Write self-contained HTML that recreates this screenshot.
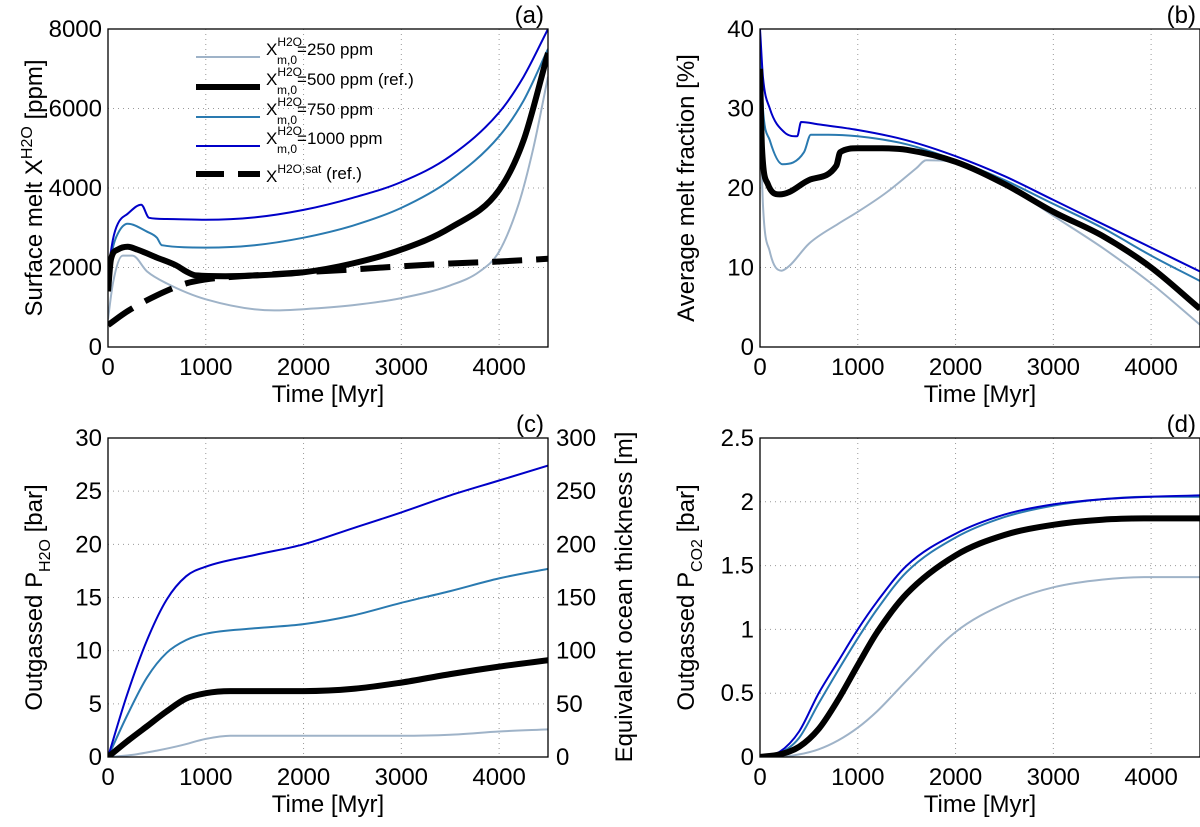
<!DOCTYPE html>
<html><head><meta charset="utf-8"><style>
body{margin:0;background:#fff}
svg text{font-family:"Liberation Sans",sans-serif;fill:#000}
</style></head><body>
<svg id="s" width="1200" height="822" xmlns="http://www.w3.org/2000/svg"></svg>
<script>
// Panel (a) data
const aT1000=[0,50,100,200,340,420,600,1000,1500,2000,2500,3000,3500,4000,4250,4500];
const aV1000=[1900,2700,3100,3350,3580,3250,3220,3200,3260,3450,3750,4150,4800,5900,6800,8000];
const aT750=[0,50,100,200,400,500,550,1000,1500,2000,2500,3000,3500,4000,4250,4500];
const aV750=[1800,2500,2850,3100,2900,2750,2560,2500,2560,2750,3050,3500,4200,5300,6200,7500];
const aT500=[0,30,100,200,300,500,700,800,900,1200,1500,2000,2500,3000,3500,4000,4250,4500];
const aV500=[1400,2200,2450,2520,2450,2250,2050,1900,1800,1780,1800,1880,2100,2450,3000,3950,5200,7400];
const aT250=[0,50,150,250,400,600,1000,1700,2000,2500,3000,3500,3800,4000,4200,4350,4500];
const aV250=[700,1600,2300,2300,1900,1600,1200,920,950,1050,1230,1550,1900,2400,3600,5000,6800];
const aTsat=[0,200,500,800,1000,1500,2000,2500,3000,3500,4000,4500];
const aVsat=[550,900,1300,1600,1700,1800,1880,1950,2030,2100,2150,2220];
// Panel (b) data
const bT1000=[0,30,100,250,380,420,600,1000,1500,2000,2500,3000,3500,4000,4500];
const bV1000=[40,34,30,27,26.5,28.3,28,27.3,26,24,21.5,18.5,15.5,12.5,9.5];
const bT750=[0,30,100,230,450,520,700,1000,1500,2000,2500,3000,3500,4000,4500];
const bV750=[38,30,26,23,24.5,26.7,26.7,26.5,25.5,23.5,21,18,15,11.5,8.3];
const bT500=[0,20,80,200,300,500,780,820,1000,1250,1500,2000,2500,3000,3500,4000,4500];
const bV500=[35,25,20.5,19.2,19.5,21,22.8,24.5,25,25,24.8,23.3,20.5,17,14,10,4.8];
const bT250=[0,30,100,220,300,500,800,1000,1300,1600,1700,2000,2500,3000,3500,4000,4500];
const bV250=[30,18,12,9.6,10.2,13,15.5,17,19.5,22.5,23.5,23.2,20.5,16.5,12.5,8,2.8];
// Panel (c) data
const cT=[0,200,400,600,800,1000,1500,2000,2500,3000,3500,4000,4500];
const cV1000=[0,6,11,14.8,17,17.9,19,20,21.5,23,24.6,26,27.4];
const cV750=[0,4,7.5,9.8,11,11.6,12.1,12.5,13.3,14.5,15.6,16.8,17.7];
const cT500=[0,200,400,600,800,1000,1250,1500,2000,2500,3000,3500,4000,4500];
const cV500=[0,1.5,2.9,4.3,5.5,6,6.2,6.2,6.2,6.4,7,7.8,8.5,9.1];
const cT250=[0,250,500,750,1000,1250,1500,2000,3000,3500,4000,4500];
const cV250=[0,0.2,0.6,1.1,1.7,2,2,2,2,2.1,2.4,2.6];
// Panel (d) data
const dT=[0,200,400,600,800,1000,1200,1500,2000,2500,3000,3500,4000,4500];
const dV1000=[0,0.04,0.2,0.5,0.75,1.0,1.22,1.5,1.75,1.9,1.98,2.02,2.04,2.05];
const dV750=[0,0.03,0.15,0.42,0.68,0.93,1.16,1.45,1.72,1.88,1.97,2.02,2.04,2.04];
const dV500=[0,0.02,0.08,0.22,0.45,0.72,0.98,1.28,1.58,1.74,1.82,1.86,1.87,1.87];
const dV250=[0,0,0.02,0.06,0.13,0.23,0.36,0.6,0.98,1.2,1.33,1.39,1.41,1.41];
const xTicks=[0,1000,2000,3000,4000];

const C250='#9fb3c8',C500='#000',C750='#2a7ab0',C1000='#0000c8';
const S=document.getElementById('s');
const NS='http://www.w3.org/2000/svg';
function mk(tag,attrs,parent){const e=document.createElementNS(NS,tag);for(const k in attrs)e.setAttribute(k,attrs[k]);(parent||S).appendChild(e);return e;}

function monoPath(xs,ys){
  const n=xs.length;if(n<2)return '';
  const d=[],m=[];
  for(let i=0;i<n-1;i++)d.push((ys[i+1]-ys[i])/(xs[i+1]-xs[i]));
  m[0]=d[0];m[n-1]=d[n-2];
  for(let i=1;i<n-1;i++){m[i]=(d[i-1]*d[i]<=0)?0:(d[i-1]+d[i])/2;}
  for(let i=0;i<n-1;i++){
    if(d[i]===0){m[i]=0;m[i+1]=0;continue;}
    const a=m[i]/d[i],b=m[i+1]/d[i],h=a*a+b*b;
    if(h>9){const t=3/Math.sqrt(h);m[i]=t*a*d[i];m[i+1]=t*b*d[i];}
  }
  let p='M'+xs[0].toFixed(1)+','+ys[0].toFixed(1);
  for(let i=0;i<n-1;i++){
    const h=(xs[i+1]-xs[i])/3;
    p+='C'+(xs[i]+h).toFixed(1)+','+(ys[i]+m[i]*h).toFixed(1)+' '+(xs[i+1]-h).toFixed(1)+','+(ys[i+1]-m[i+1]*h).toFixed(1)+' '+xs[i+1].toFixed(1)+','+ys[i+1].toFixed(1);
  }
  return p;
}

function panel(id,L,R,T,B,ymax,yTicks,yLabels,ytitle,label,series){
  const g=mk('g',{});
  
  
  const sx=v=>L+(R-L)*v/4500, sy=v=>B-(B-T)*v/ymax;
  xTicks.forEach(t=>{
    const x=sx(t);
    if(t>0){const l=mk('line',{x1:x,x2:x,y1:T,y2:B,stroke:'#999','stroke-width':1,'stroke-dasharray':'1,4'},g);
      }
    const tx=mk('text',{x:x,y:B+28,'font-size':24,'text-anchor':'middle'},g);tx.textContent=t;
    
  });
  yTicks.forEach((v,i)=>{
    const y=sy(v);
    if(v>0&&v<ymax){const l=mk('line',{x1:L,x2:R,y1:y,y2:y,stroke:'#999','stroke-width':1,'stroke-dasharray':'1,4'},g);
      }
    const tx=mk('text',{x:L-6,y:y+8,'font-size':24,'text-anchor':'end'},g);tx.textContent=yLabels[i];
    
  });
  const clip=mk('clipPath',{id:'clip'+id},g);mk('rect',{x:L,y:T,width:R-L,height:B-T},clip);
  series.forEach(s=>{
    const d=monoPath(s.t.map(sx),s.v.map(sy));
    const p=mk('path',{d:d,fill:'none',stroke:s.c,'stroke-width':s.w,'stroke-linejoin':'round','clip-path':'url(#clip'+id+')'},g);
    if(s.dash)p.setAttribute('stroke-dasharray',s.dash);
    
  });
  const fr=mk('rect',{x:L,y:T,width:R-L,height:B-T,fill:'none',stroke:'#000','stroke-width':1.3},g);
  
  const xt=mk('text',{x:(L+R)/2,y:B+55,'font-size':24,'text-anchor':'middle'},g);xt.textContent='Time [Myr]';
  
  const yt=mk('text',{x:0,y:0,'font-size':24,'text-anchor':'middle',transform:`translate(${L-66},${(T+B)/2}) rotate(-90)`},g);
  yt.innerHTML=ytitle;
  
  const pl=mk('text',{x:R-4,y:T-6,'font-size':24,'text-anchor':'end'},g);pl.textContent=label;
  
  return {sx,sy,g};
}
panel('a',108,548,29,347,8000,[0,2000,4000,6000,8000],['0','2000','4000','6000','8000'],
 'Surface melt X<tspan font-size="16" dy="-10">H2O</tspan><tspan dy="10"> [ppm]</tspan>','(a)',[
 {t:aT250,v:aV250,c:C250,w:2,n:'line-250ppm'},
 {t:aT750,v:aV750,c:C750,w:2,n:'line-750ppm'},
 {t:aT1000,v:aV1000,c:C1000,w:2,n:'line-1000ppm'},
 {t:aTsat,v:aVsat,c:'#000',w:6,dash:'30,14',n:'line-saturation'},
 {t:aT500,v:aV500,c:C500,w:6,n:'line-500ppm'}]);
panel('b',760,1200,29,347,40,[0,10,20,30,40],['0','10','20','30','40'],
 'Average melt fraction [%]','(b)',[
 {t:bT250,v:bV250,c:C250,w:2,n:'line-250ppm'},
 {t:bT750,v:bV750,c:C750,w:2,n:'line-750ppm'},
 {t:bT1000,v:bV1000,c:C1000,w:2,n:'line-1000ppm'},
 {t:bT500,v:bV500,c:C500,w:6,n:'line-500ppm'}]);
const pc=panel('c',108,548,438,757,30,[0,5,10,15,20,25,30],['0','5','10','15','20','25','30'],
 'Outgassed P<tspan font-size="16" dy="8">H2O</tspan><tspan dy="-8"> [bar]</tspan>','(c)',[
 {t:cT250,v:cV250,c:C250,w:2,n:'line-250ppm'},
 {t:cT,v:cV750,c:C750,w:2,n:'line-750ppm'},
 {t:cT,v:cV1000,c:C1000,w:2,n:'line-1000ppm'},
 {t:cT500,v:cV500,c:C500,w:6,n:'line-500ppm'}]);
[0,50,100,150,200,250,300].forEach(v=>{
  const t=mk('text',{x:556,y:pc.sy(v/10)+8,'font-size':24},pc.g);t.textContent=v;
  
});
const ry=mk('text',{x:0,y:0,'font-size':24,'text-anchor':'middle',transform:'translate(632,597) rotate(-90)'},pc.g);
ry.textContent='Equivalent ocean thickness [m]';

panel('d',760,1200,438,757,2.5,[0,0.5,1,1.5,2,2.5],['0','0.5','1','1.5','2','2.5'],
 'Outgassed P<tspan font-size="16" dy="8">CO2</tspan><tspan dy="-8"> [bar]</tspan>','(d)',[
 {t:dT,v:dV250,c:C250,w:2,n:'line-250ppm'},
 {t:dT,v:dV750,c:C750,w:2,n:'line-750ppm'},
 {t:dT,v:dV1000,c:C1000,w:2,n:'line-1000ppm'},
 {t:dT,v:dV500,c:C500,w:6,n:'line-500ppm'}]);
// legend
const lg=mk('g',{});


const leg=[['250 ppm',C250,2,null,57],['500 ppm (ref.)',C500,6,null,87],['750 ppm',C750,2,null,117],['1000 ppm',C1000,2,null,146]];
leg.forEach(e=>{
  mk('line',{x1:196,x2:260,y1:e[4],y2:e[4],stroke:e[1],'stroke-width':e[2]},lg);
  const t=mk('text',{x:266,y:e[4]-2,'font-size':17},lg);
  t.innerHTML='X<tspan font-size="12" dy="-9">H2O</tspan><tspan font-size="12" dx="-25" dy="18">m,0</tspan><tspan dy="-9">='+e[0]+'</tspan>';
  
});
mk('line',{x1:196,x2:260,y1:174,y2:174,stroke:'#000','stroke-width':6,'stroke-dasharray':'28,14'},lg);
const ts=mk('text',{x:266,y:182,'font-size':17},lg);
ts.innerHTML='X<tspan font-size="12" dy="-9">H2O,sat</tspan><tspan dy="6"> (ref.)</tspan>';

</script>
</body></html>
